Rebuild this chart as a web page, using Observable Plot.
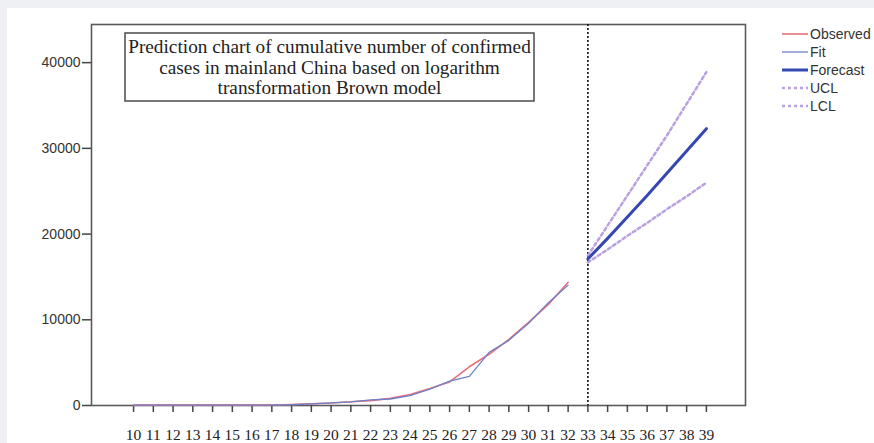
<!DOCTYPE html>
<html>
<head>
<meta charset="utf-8">
<script src="https://cdn.jsdelivr.net/npm/d3@7"></script>
<script src="https://cdn.jsdelivr.net/npm/@observablehq/plot@0.6"></script>
<style>
  html, body { margin: 0; padding: 0; background: #eef0f3; }
  #chart { position: relative; width: 874px; height: 443px; overflow: hidden; }
  #chart svg { display: block; background: transparent; }
</style>
</head>
<body>
<div id="chart"></div>
<script>
// ---- data ----
const obsDays = [10,11,12,13,14,15,16,17,18,19,20,21,22,23,24,25,26,27,28,29,30,31,32];
const observed = [41,41,41,41,41,41,45,62,121,198,291,440,571,830,1287,1975,2744,4515,5974,7711,9692,11791,14380];
const fitDays = [10,11,12,13,14,15,16,17,18,19,20,21,22,23,24,25,26,27,28,29,30,31,32];
const fitted = [41,41,41,41,41,41,41,50,85,190,300,420,650,760,1150,1900,2850,3400,6200,7600,9600,12000,14050];
const fcDays = [33,34,35,36,37,38,39];
const forecast = [17100,19500,22000,24500,27100,29700,32300];
const ucl = [17500,21000,24500,28000,31500,35200,38900];
const lcl = [16700,18200,19800,21300,22900,24400,26000];
const xTicks = d3.range(10, 40);
const yTicks = [0, 10000, 20000, 30000, 40000];
const cutDay = [33];
const titleLines = [
  "Prediction chart of cumulative number of confirmed",
  "cases in mainland China based on logarithm",
  "transformation Brown model"
];
const legendItems = [
  {label: "Observed", color: "#e8707a", width: 1.6, dash: null},
  {label: "Fit", color: "#6f80c8", width: 1.3, dash: null},
  {label: "Forecast", color: "#3547b2", width: 3, dash: null},
  {label: "UCL", color: "#b9a0e0", width: 2.5, dash: "3,3"},
  {label: "LCL", color: "#b9a0e0", width: 2.5, dash: "3,3"}
];

const toRows = (xs, ys) => xs.map((x, i) => ({x, y: ys[i]}));

const plot = Plot.plot({
  width: 874,
  height: 443,
  marginLeft: 91,
  marginRight: 129,
  marginTop: 24,
  marginBottom: 38,
  style: {background: "transparent"},
  x: {type: "linear", domain: [7.87, 40.98]},
  y: {domain: [0, 44450]},
  marks: [
    Plot.frame({stroke: "#5a5a5a", strokeWidth: 1.6}),
    Plot.axisX({
      ticks: xTicks, tickSize: 7, tickPadding: 16, tickFormat: d => String(d),
      fontFamily: "Liberation Serif", fontSize: 15.5, stroke: "#444", strokeWidth: 1.5,
      fill: "#222", label: null
    }),
    Plot.axisY({
      ticks: yTicks, tickSize: 9, tickPadding: 2, tickFormat: d => String(d),
      fontFamily: "Liberation Sans", fontSize: 14, stroke: "#444", strokeWidth: 1.5,
      fill: "#333", label: null
    }),
    Plot.ruleX(cutDay, {stroke: "#111", strokeWidth: 1.6, strokeDasharray: "2,2"}),
    Plot.line(toRows(obsDays, observed), {x: "x", y: "y", stroke: legendItems[0].color, strokeWidth: 1.6}),
    Plot.line(toRows(fitDays, fitted), {x: "x", y: "y", stroke: legendItems[1].color, strokeWidth: 1.3}),
    Plot.line(toRows(fcDays, ucl), {x: "x", y: "y", stroke: legendItems[3].color, strokeWidth: 2.5, strokeDasharray: "3,3"}),
    Plot.line(toRows(fcDays, lcl), {x: "x", y: "y", stroke: legendItems[4].color, strokeWidth: 2.5, strokeDasharray: "3,3"}),
    Plot.line(toRows(fcDays, forecast), {x: "x", y: "y", stroke: legendItems[2].color, strokeWidth: 3})
  ]
});

document.getElementById("chart").appendChild(plot);

// decorations: white panel, title box, legend
const svg = d3.select(plot);
svg.insert("rect", ":first-child")
  .attr("x", 7).attr("y", 8).attr("width", 874).attr("height", 443).attr("fill", "#ffffff");

const tg = svg.append("g");
tg.append("rect").attr("x", 125).attr("y", 33).attr("width", 409).attr("height", 68)
  .attr("fill", "#fff").attr("stroke", "#555").attr("stroke-width", 1.6);
tg.selectAll("text").data(titleLines).join("text")
  .attr("x", 329.5).attr("y", (d, i) => 53 + i * 20.5)
  .attr("text-anchor", "middle")
  .attr("font-family", "Liberation Serif").attr("font-size", 19.3).attr("fill", "#222")
  .text(d => d);

const lg = svg.append("g").attr("text-anchor", "start");
legendItems.forEach((it, i) => {
  const y = 34 + i * 18;
  lg.append("line").attr("x1", 782).attr("x2", 808).attr("y1", y).attr("y2", y)
    .attr("stroke", it.color).attr("stroke-width", it.width)
    .attr("stroke-dasharray", it.dash);
  lg.append("text").attr("x", 810).attr("y", y).attr("dy", "0.35em")
    .attr("text-anchor", "start")
    .attr("font-family", "Liberation Sans").attr("font-size", 14).attr("fill", "#333")
    .text(it.label);
});
</script>
</body>
</html>
